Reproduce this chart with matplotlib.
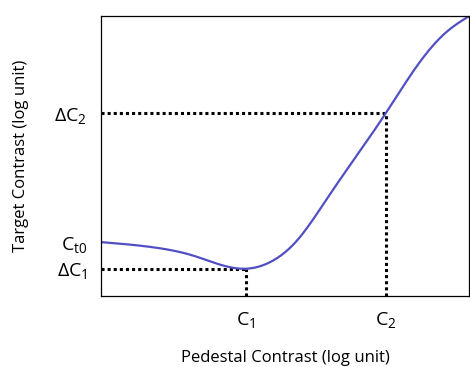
import numpy as np
import matplotlib
matplotlib.use("Agg")
from matplotlib import pyplot as plt

# dipper curve, target threshold vs pedestal (both log units, 0-10 axis scale)
pedestal = [0.0, 1.5, 2.5, 3.2, 3.94, 4.6, 5.3, 6.2, 7.74, 8.6, 9.4, 10.0]
target = [1.93, 1.73, 1.45, 1.14, 0.98, 1.22, 1.95, 3.6, 6.54, 8.25, 9.45, 10.0]

c1, dc1 = 3.94, 0.98
c2, dc2 = 7.74, 6.54
ct0 = 1.93

xtick_labels = [r'$\mathregular{C_1}$', r'$\mathregular{C_2}$']
ytick_labels = [r'$\mathregular{\Delta C_1}$', r'$\mathregular{C_{t0}}$',
                r'$\mathregular{\Delta C_2}$']


def natural_spline(xs, ys, n=400):
    # natural cubic spline through the points
    x = np.asarray(xs, float)
    y = np.asarray(ys, float)
    m = len(x)
    h = np.diff(x)
    A = np.zeros((m, m))
    b = np.zeros(m)
    A[0, 0] = A[-1, -1] = 1
    for i in range(1, m - 1):
        A[i, i - 1] = h[i - 1]
        A[i, i] = 2 * (h[i - 1] + h[i])
        A[i, i + 1] = h[i]
        b[i] = 3 * ((y[i + 1] - y[i]) / h[i] - (y[i] - y[i - 1]) / h[i - 1])
    c = np.linalg.solve(A, b)
    xx = np.linspace(x[0], x[-1], n)
    k = np.clip(np.searchsorted(x, xx) - 1, 0, m - 2)
    d = xx - x[k]
    bb = (y[k + 1] - y[k]) / h[k] - h[k] * (2 * c[k] + c[k + 1]) / 3
    dd = (c[k + 1] - c[k]) / (3 * h[k])
    return xx, y[k] + bb * d + c[k] * d ** 2 + dd * d ** 3


plt.rcParams['font.family'] = ['Open Sans', 'DejaVu Sans']
plt.rcParams['mathtext.fontset'] = 'custom'
plt.rcParams['mathtext.rm'] = 'Open Sans'

fig = plt.figure(figsize=(4.7, 3.67), dpi=100)
ax = fig.add_axes([0.215, 0.193, 0.783, 0.763])

dot = (0, (1, 1))
ax.plot([0, c1], [dc1, dc1], color='black', lw=2.2, linestyle=dot, zorder=1)
ax.plot([c1, c1], [0, dc1], color='black', lw=2.2, linestyle=dot, zorder=1)
ax.plot([0, c2], [dc2, dc2], color='black', lw=2.2, linestyle=dot, zorder=1)
ax.plot([c2, c2], [0, dc2], color='black', lw=2.2, linestyle=dot, zorder=1)

sx, sy = natural_spline(pedestal, target)
ax.plot(sx, sy, color='#5050c4', lw=1.6, zorder=2)

ax.set_xlim(0, 10)
ax.set_ylim(0, 10)
ax.set_xticks([c1, c2])
ax.set_xticklabels(xtick_labels, fontsize=14)
ax.set_yticks([dc1, ct0, dc2])
ax.set_yticklabels(ytick_labels, fontsize=14)
ax.tick_params(length=0, pad=10)
for s in ax.spines.values():
    s.set_linewidth(0.9)

ax.set_xlabel('Pedestal Contrast (log unit)', fontsize=12, labelpad=14)
ax.set_ylabel('Target Contrast (log unit)', fontsize=12, labelpad=18)

fig.savefig('out.png', dpi=100)
